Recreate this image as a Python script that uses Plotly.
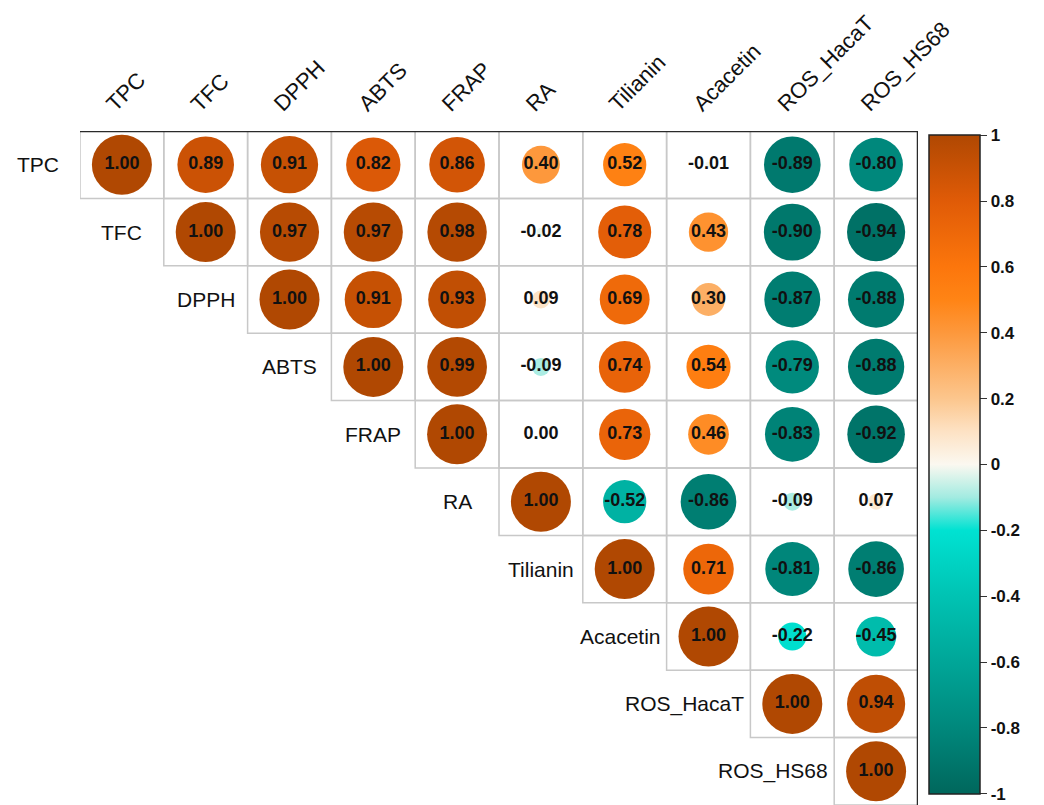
import plotly.graph_objects as go

# Variables (order of rows / columns)
variables = ["TPC", "TFC", "DPPH", "ABTS", "FRAP", "RA", "Tilianin",
             "Acacetin", "ROS_HacaT", "ROS_HS68"]

# Upper-triangle correlation coefficients, one list per row (diagonal first)
r_TPC = [1.00, 0.89, 0.91, 0.82, 0.86, 0.40, 0.52, -0.01, -0.89, -0.80]
r_TFC = [1.00, 0.97, 0.97, 0.98, -0.02, 0.78, 0.43, -0.90, -0.94]
r_DPPH = [1.00, 0.91, 0.93, 0.09, 0.69, 0.30, -0.87, -0.88]
r_ABTS = [1.00, 0.99, -0.09, 0.74, 0.54, -0.79, -0.88]
r_FRAP = [1.00, 0.00, 0.73, 0.46, -0.83, -0.92]
r_RA = [1.00, -0.52, -0.86, -0.09, 0.07]
r_Tilianin = [1.00, 0.71, -0.81, -0.86]
r_Acacetin = [1.00, -0.22, -0.45]
r_ROS_HacaT = [1.00, 0.94]
r_ROS_HS68 = [1.00]

rows = [r_TPC, r_TFC, r_DPPH, r_ABTS, r_FRAP, r_RA, r_Tilianin,
        r_Acacetin, r_ROS_HacaT, r_ROS_HS68]

colorbar_ticks = [-1, -0.8, -0.6, -0.4, -0.2, 0, 0.2, 0.4, 0.6, 0.8, 1]
colorbar_ticktext = ["-1", "-0.8", "-0.6", "-0.4", "-0.2", "0",
                     "0.2", "0.4", "0.6", "0.8", "1"]

# Diverging teal -> cream -> orange/brown palette
colorscale = [
    [0.00, "#00675c"],
    [0.10, "#00887c"],
    [0.20, "#00a698"],
    [0.30, "#00c3b3"],
    [0.40, "#00e2d2"],
    [0.45, "#a2ebe1"],
    [0.50, "#fbf8f0"],
    [0.55, "#fde2c4"],
    [0.60, "#fcc68d"],
    [0.70, "#fd983c"],
    [0.75, "#ff8415"],
    [0.80, "#fc760c"],
    [0.90, "#e05b07"],
    [1.00, "#b04802"],
]

W, H = 1044, 805
ML, MR, MT, MB = 80, 126, 131, 0
plot_w = W - ML - MR
plot_h = H - MT - MB
n = len(variables)
col_px = plot_w / n
max_diam = 60  # circle diameter for |r| = 1

xs, ys, vals, sizes, labels = [], [], [], [], []
for i, row in enumerate(rows):
    for k, v in enumerate(row):
        j = i + k
        xs.append(j)
        ys.append(i)
        vals.append(v)
        sizes.append(max_diam * abs(v) ** 0.5)
        labels.append(f"{v:.2f}")

fig = go.Figure()

fig.add_trace(go.Scatter(
    x=xs, y=ys, mode="markers",
    marker=dict(
        size=sizes, sizemode="diameter", color=vals,
        colorscale=colorscale, cmin=-1.0005, cmax=1.0005,
        line=dict(width=0),
        opacity=1,
        showscale=True,
        colorbar=dict(
            thickness=51, thicknessmode="pixels",
            len=659, lenmode="pixels",
            x=(929 - ML) / plot_w, xanchor="left", xpad=0,
            y=1 - (135 - MT) / plot_h, yanchor="top", ypad=0,
            outlinewidth=1.5, outlinecolor="#222222",
            tickmode="array", tickvals=colorbar_ticks,
            ticktext=colorbar_ticktext,
            ticks="outside", ticklen=7, tickwidth=1.2, tickcolor="#333333",
            ticklabeloverflow="allow",
            tickfont=dict(family="Liberation Sans, Arial", size=17,
                          color="#111111", weight="bold"),
        ),
    ),
    hoverinfo="skip", showlegend=False,
))

fig.add_trace(go.Scatter(
    x=xs, y=ys, mode="text", text=labels,
    textfont=dict(family="Liberation Sans, Arial", size=18,
                  color="#111111", weight="bold"),
    hoverinfo="skip", showlegend=False,
))

# Cell borders of the upper triangle
shapes = []
for i in range(n):
    for j in range(i, n):
        shapes.append(dict(
            type="rect", xref="x", yref="y",
            x0=j - 0.5, x1=j + 0.5, y0=i - 0.5, y1=i + 0.5,
            line=dict(color="#c8c8c8", width=1.5), layer="below",
        ))
# Dark frame along the top and the right side
shapes.append(dict(type="line", xref="x", yref="y",
                   x0=-0.5, x1=n - 0.5, y0=-0.5, y1=-0.5,
                   line=dict(color="#2a2a2a", width=2.5)))
shapes.append(dict(type="line", xref="x", yref="y",
                   x0=n - 0.5, x1=n - 0.5, y0=-0.5, y1=n - 0.5,
                   line=dict(color="#2a2a2a", width=2.5)))

annotations = []
label_font = dict(family="Liberation Sans, Arial", size=21, color="#111111")
col_label_font = dict(family="Liberation Sans, Arial", size=22, color="#111111")

# Column labels, rotated 45 degrees above the grid
for j, name in enumerate(variables):
    annotations.append(dict(
        x=j, y=1, xref="x", yref="paper", text=name, showarrow=False,
        textangle=-45, xanchor="left", yanchor="bottom",
        xshift=-23, yshift=12, font=col_label_font,
    ))

# Row labels beside the diagonal
long_labels = {"Acacetin", "ROS_HacaT", "ROS_HS68"}
for i, name in enumerate(variables):
    if name in long_labels:
        annotations.append(dict(
            x=i - 0.5, y=i, xref="x", yref="y", text=name, showarrow=False,
            xanchor="right", yanchor="middle", xshift=-4, font=label_font,
        ))
    else:
        annotations.append(dict(
            x=i - 0.5, y=i, xref="x", yref="y", text=name, showarrow=False,
            xanchor="center", yanchor="middle", xshift=-col_px / 2,
            font=label_font,
        ))

fig.update_layout(
    width=W, height=H,
    margin=dict(l=ML, r=MR, t=MT, b=MB, pad=0),
    paper_bgcolor="white", plot_bgcolor="white",
    xaxis=dict(range=[-0.5, n - 0.5], visible=False, fixedrange=True),
    yaxis=dict(range=[n - 0.5, -0.5], visible=False, fixedrange=True),
    shapes=shapes, annotations=annotations,
    showlegend=False,
)

fig.write_html("out.html")
